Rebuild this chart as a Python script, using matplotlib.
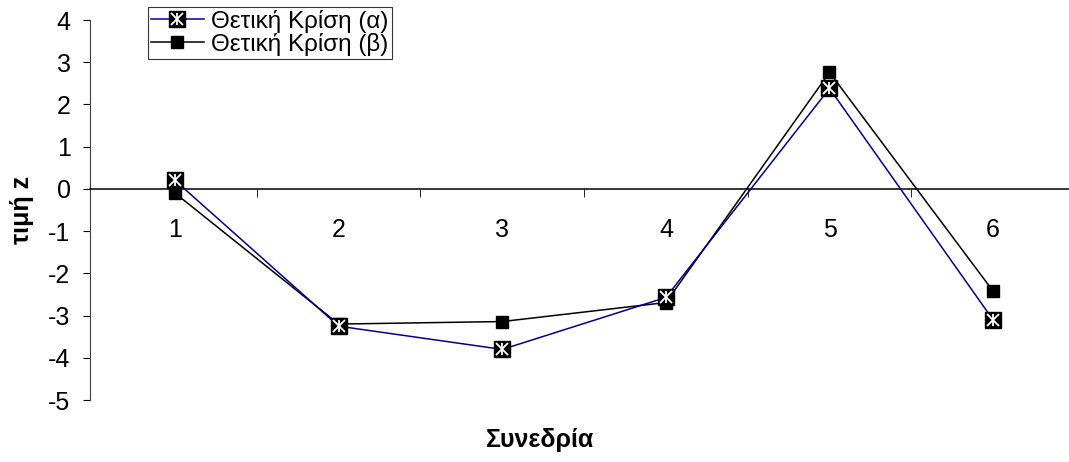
import matplotlib
matplotlib.use("Agg")
import matplotlib.pyplot as plt
from matplotlib.legend_handler import HandlerTuple
import numpy as np

plt.rcParams['font.family'] = ['Liberation Sans', 'DejaVu Sans']

sessions = [1, 2, 3, 4, 5, 6]
session_labels = ["1", "2", "3", "4", "5", "6"]
z_a = [0.20, -3.25, -3.80, -2.57, 2.38, -3.10]
z_b = [-0.10, -3.20, -3.14, -2.69, 2.76, -2.42]
yticks = [4, 3, 2, 1, 0, -1, -2, -3, -4, -5]

fs = 18

fig = plt.figure(figsize=(10.69, 4.62), dpi=100)
ax = fig.add_axes([0.0842, 0.134, 0.9158, 0.8227])

blue = '#000090'
la, = ax.plot(sessions, z_a, color=blue, lw=1.1, marker='s', ms=11,
              mfc='black', mec='black', zorder=4)
xa, = ax.plot(sessions, z_a, ls='none', marker='x', ms=8, mew=1.3,
              color='white', zorder=5)
va, = ax.plot(sessions, z_a, ls='none', marker='|', ms=9, mew=1.3,
              color='white', zorder=5)
lb, = ax.plot(sessions, z_b, color='black', lw=1.1, marker='s', ms=9,
              mfc='black', mec='black', zorder=3)

ax.set_xlim(0.48, 6.464)
ax.set_ylim(-5, 4)

ax.spines['top'].set_visible(False)
ax.spines['right'].set_visible(False)
ax.spines['bottom'].set_position(('data', 0))
ax.spines['bottom'].set_linewidth(1.1)
ax.spines['left'].set_color('#404040')

ax.set_yticks(yticks)
ax.set_yticklabels([str(t) for t in yticks])
ax.tick_params(axis='y', direction='out', length=5, labelsize=fs, pad=9)

ax.set_xticks(sessions)
ax.set_xticklabels(session_labels)
ax.set_xticks(np.arange(1.5, 6.5, 1.0), minor=True)
ax.tick_params(axis='x', which='major', length=0, labelsize=fs, pad=21)
ax.tick_params(axis='x', which='minor', direction='out', length=6)

ax.set_ylabel('τιμή z', fontsize=fs, fontweight='bold', labelpad=10)
fig.text(0.505, 0.047, 'Συνεδρία', fontsize=fs, fontweight='bold',
         ha='center', va='center')

leg = ax.legend([(la, xa, va), lb],
                ['Θετική Κρίση (α)', 'Θετική Κρίση (β)'],
                handler_map={tuple: HandlerTuple(ndivide=1)},
                loc='upper left', bbox_to_anchor=(0.059, 1.035),
                prop={'size': 17.5}, frameon=True, fancybox=False,
                edgecolor='black', borderpad=0.12, labelspacing=0.0,
                handlelength=2.2, handletextpad=0.3, borderaxespad=0)
leg.get_frame().set_linewidth(0.8)

fig.savefig('out.png', dpi=100)
